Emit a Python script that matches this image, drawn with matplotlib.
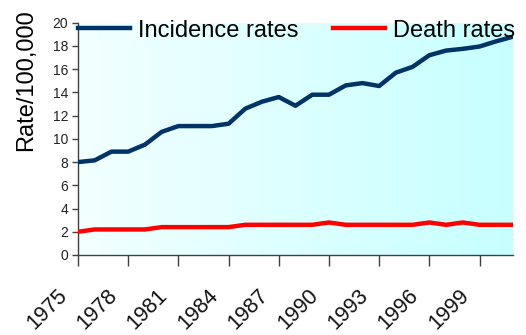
import numpy as np
import matplotlib
matplotlib.use("Agg")
import matplotlib.pyplot as plt

plt.rcParams['font.family'] = ['Liberation Sans', 'DejaVu Sans']

years = list(range(1975, 2002))
incidence = [8.0, 8.15, 8.9, 8.9, 9.5, 10.6, 11.1, 11.1, 11.1, 11.3,
             12.6, 13.2, 13.6, 12.85, 13.8, 13.8, 14.6, 14.8, 14.55, 15.7,
             16.2, 17.2, 17.6, 17.75, 17.95, 18.4, 18.8]
death = [2.0, 2.2, 2.2, 2.2, 2.2, 2.4, 2.4, 2.4, 2.4, 2.4,
         2.6, 2.6, 2.6, 2.6, 2.6, 2.8, 2.6, 2.6, 2.6, 2.6,
         2.6, 2.8, 2.6, 2.8, 2.6, 2.6, 2.6]
tick_years = [1975, 1978, 1981, 1984, 1987, 1990, 1993, 1996, 1999]

fig = plt.figure(figsize=(5.26, 3.35), dpi=100)
ax = fig.add_axes([78/526, 1-255/335, (513-78)/526, (255-22.7)/335])

# horizontal white-to-cyan gradient behind the data
grad = np.linspace(0, 1, 256).reshape(1, -1)
c0 = np.array([0.95, 1.0, 1.0])
c1 = np.array([0.78, 1.0, 1.0])
img = c0[None, None, :] * (1 - grad[..., None]) + c1[None, None, :] * grad[..., None]
ax.imshow(img, extent=[0, 1, 0, 1], transform=ax.transAxes, aspect='auto', zorder=0)

ax.plot(years, incidence, color='#003366', lw=3.2, label='Incidence rates', zorder=3,
        solid_joinstyle='round')
ax.plot(years, death, color='#ff0000', lw=3.2, label='Death rates', zorder=3,
        solid_joinstyle='round')

ax.set_xlim(1975, 2001)
ax.set_ylim(0, 20)
ax.set_yticks(range(0, 21, 2))
ax.set_xticks(tick_years)
ax.set_xticklabels([])

# rotated year labels, set well below the axis
for yr in tick_years:
    ax.annotate(str(yr), xy=(yr, 0), xycoords=('data', 'axes fraction'),
                xytext=(-10, -27), textcoords='offset points',
                rotation=45, ha='right', va='center', rotation_mode='anchor',
                fontsize=15.5, color='#111111', annotation_clip=False)

ax.tick_params(axis='y', labelsize=10, length=4, width=1, color='#404040', pad=3,
               labelcolor='#222222')
ax.tick_params(axis='x', length=8, width=1, color='#404040')
for s in ['top', 'right']:
    ax.spines[s].set_visible(False)
for s in ['left', 'bottom']:
    ax.spines[s].set_color('#404040')
    ax.spines[s].set_linewidth(1)

ax.set_ylabel('Rate/100,000', fontsize=17)
ax.yaxis.set_label_coords(-0.094, 0.754)

leg = ax.legend(loc='upper left', bbox_to_anchor=(0.0, 1.013), ncol=2, frameon=False,
                fontsize=17, handlelength=2.2, handletextpad=0.34, columnspacing=1.45,
                borderaxespad=0, borderpad=0)

fig.savefig('out.png', dpi=100)
